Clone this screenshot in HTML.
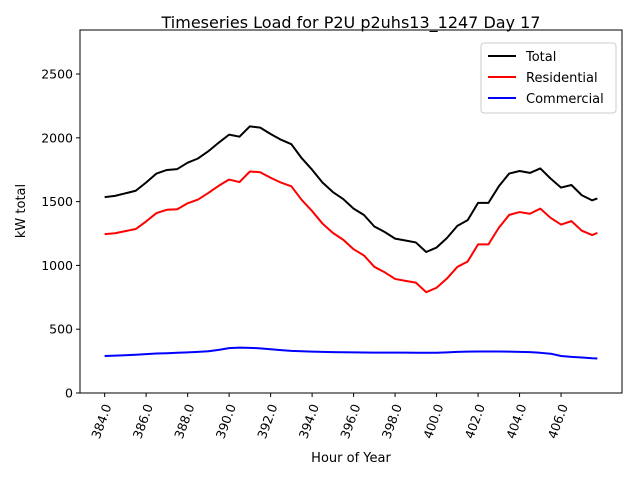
<!DOCTYPE html>
<html><head><meta charset="utf-8"><style>body{margin:0;background:#fff}svg{display:block;font-family:"DejaVu Sans","Liberation Sans",sans-serif}</style></head>
<body>
<svg id="chart" width="640" height="480" viewBox="0 0 640 480" xmlns="http://www.w3.org/2000/svg">
<rect width="640" height="480" fill="#fff"/>
<text x="351" y="28" font-size="16" text-anchor="middle">Timeseries Load for P2U p2uhs13_1247  Day 17</text>
<g id="plot"></g>
<rect x="80" y="30" width="542" height="363" fill="none" stroke="#000" stroke-width="1"/>
<text x="351" y="462" font-size="13" text-anchor="middle">Hour of Year</text>
<text transform="translate(25,211) rotate(-90)" font-size="13" text-anchor="middle">kW total</text>
<g>
<rect x="481" y="43" width="135" height="70" fill="#fff" stroke="#ccc" rx="3"/>
<line x1="488" y1="56" x2="516" y2="56" stroke="#000" stroke-width="2"/><text x="526" y="61" font-size="13">Total</text>
<line x1="488" y1="77" x2="516" y2="77" stroke="#f00" stroke-width="2"/><text x="526" y="82" font-size="13">Residential</text>
<line x1="488" y1="98" x2="516" y2="98" stroke="#00f" stroke-width="2"/><text x="526" y="103" font-size="13">Commercial</text>
</g>
</svg>
<script>
const hours = [];
for (let k = 0; k < 48; k++) hours.push(384 + k * 0.5);
hours.push(407.75);
const total = [1535,1545,1565,1585,1650,1720,1748,1755,1805,1838,1895,1962,2025,2009,2090,2080,2030,1985,1950,1840,1750,1650,1575,1520,1445,1395,1305,1262,1210,1195,1180,1105,1140,1215,1310,1355,1490,1490,1620,1720,1740,1725,1760,1680,1610,1630,1550,1510,1525];
const commercial = [290,293,296,300,305,310,312,315,318,322,327,338,352,356,354,350,343,336,330,327,324,322,320,319,318,317,316,316,316,316,315,315,315,318,322,324,325,325,325,324,322,320,315,308,290,283,278,272,270];
const residential = [1245,1252,1269,1285,1345,1410,1436,1440,1487,1516,1568,1624,1673,1653,1736,1730,1687,1649,1620,1513,1426,1328,1255,1201,1127,1078,989,946,894,879,865,790,825,897,988,1031,1165,1165,1295,1396,1418,1405,1445,1372,1320,1347,1272,1238,1255];
const xTicks = [384,386,388,390,392,394,396,398,400,402,404,406];
const yTicks = [0,500,1000,1500,2000,2500];
const X0=80,X1=622,Y0=393,Y1=30, xmin=382.8125, xmax=408.9375, ymin=0, ymax=2845;
const xs = h => X0 + (h - xmin) / (xmax - xmin) * (X1 - X0);
const ys = v => Y0 - (v - ymin) / (ymax - ymin) * (Y0 - Y1);
const NS='http://www.w3.org/2000/svg';
const g=document.getElementById('plot');
function mk(t,a){const e=document.createElementNS(NS,t);for(const k in a)e.setAttribute(k,a[k]);g.appendChild(e);return e;}
xTicks.forEach(t=>{
  const x=xs(t);
  const l=mk('line',{x1:x,y1:Y0,x2:x,y2:Y0+4,stroke:'#000'});
  
  
  const tx=mk('text',{transform:`translate(${x+7},${Y0+13}) rotate(-70)`,'font-size':'12.5','text-anchor':'end'});
  tx.textContent=t.toFixed(1);
  
  
});
yTicks.forEach(t=>{
  const y=ys(t);
  const l=mk('line',{x1:X0-4,y1:y,x2:X0,y2:y,stroke:'#000'});
  
  
  const tx=mk('text',{x:X0-7,y:y+4.5,'font-size':'12.5','text-anchor':'end'});
  tx.textContent=t;
  
  
});
function line(vals,color,name){
  const d=vals.map((v,i)=>(i?'L':'M')+xs(hours[i]).toFixed(2)+','+ys(v).toFixed(2)).join('');
  const p=mk('path',{d:d,fill:'none',stroke:color,'stroke-width':'2','stroke-linejoin':'round'});
  
  
}
line(total,'#000','total-line');
line(residential,'#f00','residential-line');
line(commercial,'#00f','commercial-line');
</script>
</body></html>
